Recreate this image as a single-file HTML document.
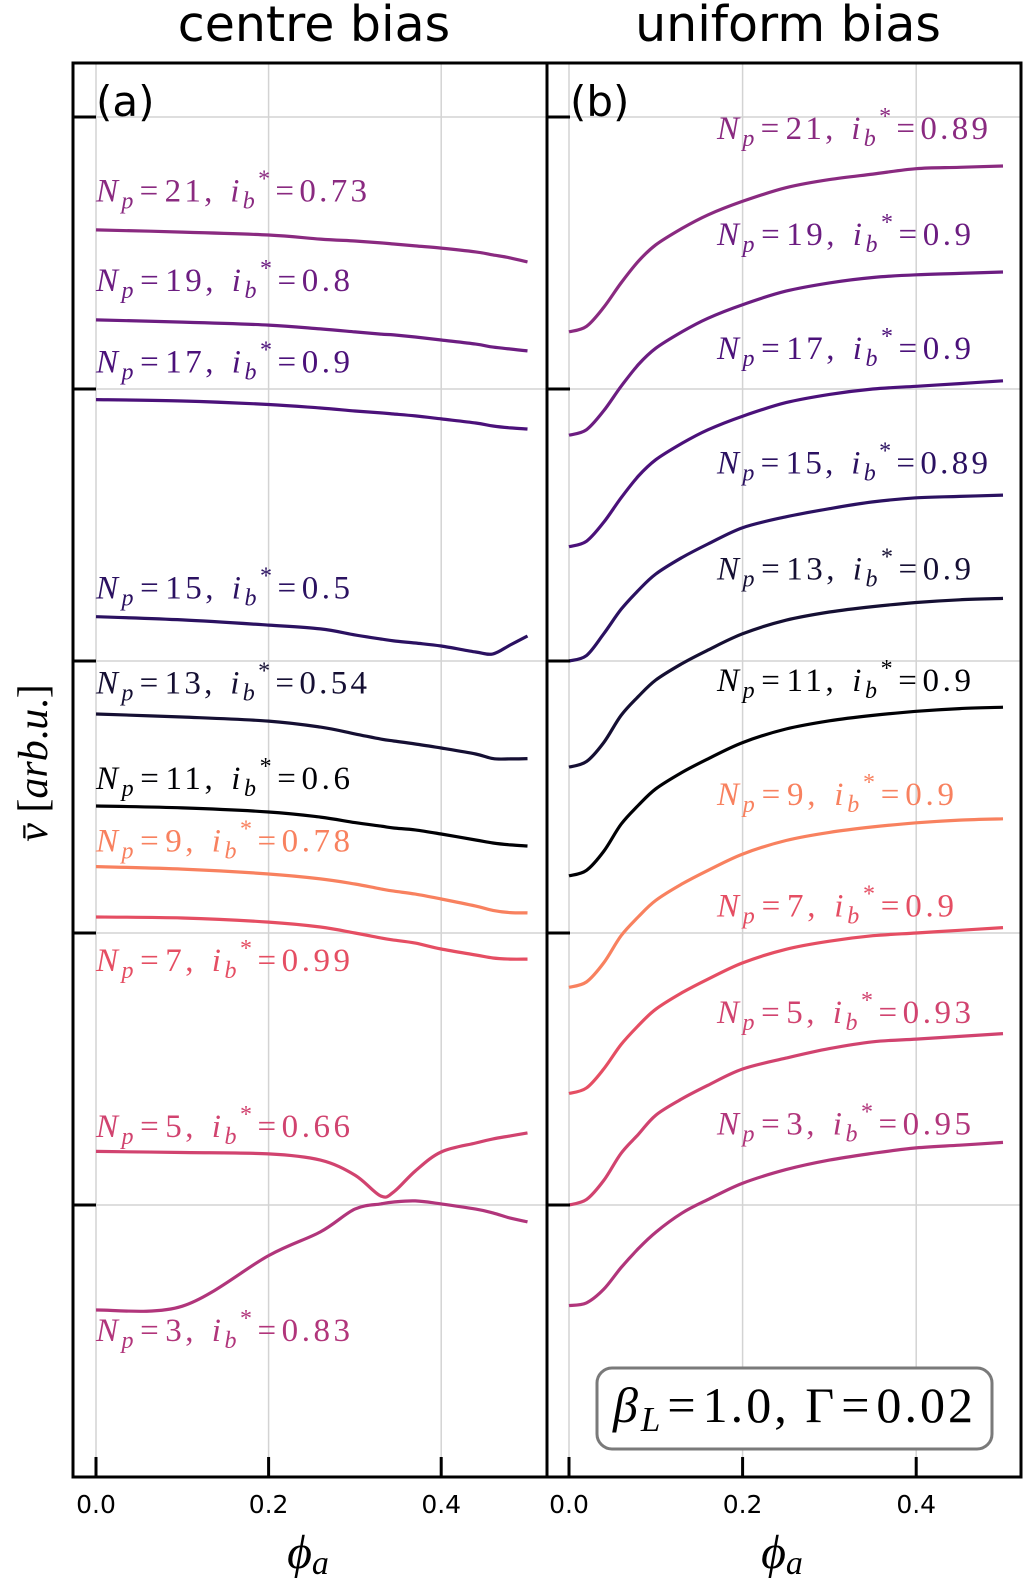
<!DOCTYPE html>
<html><head><meta charset="utf-8"><style>
html,body{margin:0;padding:0;background:#fff;}
svg{display:block;}
</style></head><body>
<svg id="fig" width="1025" height="1582" viewBox="0 0 1025 1582" xmlns="http://www.w3.org/2000/svg"></svg>
<script>
// ---- data ----
const xTicks = [0.0, 0.2, 0.4];
const xTickLabels = ["0.0", "0.2", "0.4"];
const yTicks = [1, 2, 3, 4, 5];

// left panel (centre bias)
const phiLeft = [0, 0.1, 0.2, 0.26, 0.3, 0.33, 0.345, 0.37, 0.4, 0.44, 0.46, 0.48, 0.5];
const leftN21 = [4.585,4.577,4.566,4.551,4.544,4.537,4.533,4.526,4.518,4.504,4.493,4.482,4.467];
const leftN19 = [4.254,4.246,4.235,4.221,4.210,4.202,4.199,4.191,4.180,4.165,4.154,4.147,4.140];
const leftN17 = [3.961,3.956,3.943,3.930,3.919,3.912,3.908,3.901,3.890,3.875,3.864,3.857,3.853];
const leftN15 = [3.163,3.151,3.132,3.118,3.096,3.081,3.074,3.066,3.055,3.033,3.026,3.059,3.092];
const leftN13 = [2.805,2.794,2.779,2.757,2.732,2.713,2.706,2.695,2.680,2.658,2.641,2.640,2.641];
const leftN11 = [2.467,2.460,2.445,2.426,2.406,2.393,2.386,2.379,2.364,2.342,2.331,2.324,2.320];
const leftN9  = [2.244,2.235,2.217,2.199,2.180,2.162,2.154,2.143,2.125,2.099,2.083,2.075,2.074];
const leftN7  = [2.059,2.055,2.040,2.022,2.000,1.982,1.974,1.963,1.941,1.919,1.908,1.904,1.904];
const leftN5  = [1.197,1.193,1.188,1.165,1.110,1.033,1.048,1.125,1.195,1.228,1.243,1.254,1.265];
const leftN3  = [0.614,0.628,0.814,0.901,0.985,1.004,1.011,1.015,1.004,0.985,0.971,0.952,0.938];

// right panel (uniform bias)
const phiRight = [0, 0.02, 0.04, 0.06, 0.08, 0.1, 0.13, 0.16, 0.2, 0.25, 0.3, 0.35, 0.4, 0.45, 0.5];
const rightN21 = [4.21,4.23,4.30,4.39,4.47,4.53,4.59,4.64,4.69,4.74,4.77,4.79,4.81,4.815,4.82];
const rightN19 = [3.83,3.85,3.92,4.01,4.09,4.15,4.21,4.26,4.31,4.36,4.39,4.41,4.42,4.425,4.43];
const rightN17 = [3.42,3.44,3.51,3.60,3.68,3.74,3.80,3.85,3.90,3.95,3.98,4.00,4.01,4.02,4.03];
const rightN15 = [3.00,3.02,3.10,3.19,3.26,3.32,3.38,3.43,3.49,3.53,3.56,3.585,3.60,3.605,3.61];
const rightN13 = [2.61,2.63,2.70,2.80,2.87,2.93,2.99,3.04,3.10,3.15,3.18,3.20,3.215,3.225,3.23];
const rightN11 = [2.21,2.23,2.30,2.40,2.47,2.53,2.59,2.64,2.70,2.75,2.78,2.80,2.815,2.825,2.83];
const rightN9  = [1.80,1.82,1.89,1.99,2.06,2.12,2.18,2.23,2.29,2.34,2.37,2.39,2.405,2.415,2.42];
const rightN7  = [1.41,1.43,1.50,1.59,1.66,1.72,1.78,1.83,1.89,1.94,1.97,1.99,2.00,2.01,2.02];
const rightN5  = [1.00,1.02,1.09,1.19,1.26,1.33,1.39,1.44,1.50,1.54,1.575,1.60,1.61,1.62,1.63];
const rightN3  = [0.63,0.64,0.69,0.77,0.84,0.90,0.97,1.02,1.08,1.13,1.165,1.19,1.21,1.22,1.23];

const leftNp = ["21","19","17","15","13","11","9","7","5","3"];
const leftIb = ["0.73","0.8","0.9","0.5","0.54","0.6","0.78","0.99","0.66","0.83"];
const rightIb = ["0.89","0.9","0.9","0.89","0.9","0.9","0.9","0.9","0.93","0.95"];
const leftLabelY = [4.69,4.36,4.06,3.23,2.88,2.53,2.30,1.86,1.25,0.50];
const rightLabelY = [4.92,4.53,4.11,3.69,3.30,2.89,2.47,2.06,1.67,1.26];

// ---- styles (not data) ----
const colors = ["#8a2a80","#6c1d81","#4b117a","#2b1161","#150f33","#000004","#f8815f","#e54e63","#d1436f","#b1357b"];
const leftSeries = [leftN21,leftN19,leftN17,leftN15,leftN13,leftN11,leftN9,leftN7,leftN5,leftN3];
const rightSeries = [rightN21,rightN19,rightN17,rightN15,rightN13,rightN11,rightN9,rightN7,rightN5,rightN3];

const svg = document.getElementById('fig');
const NS = 'http://www.w3.org/2000/svg';
function mk(tag, attrs, parent){ const e=document.createElementNS(NS,tag); for(const k in attrs) e.setAttribute(k,attrs[k]); (parent||svg).appendChild(e); return e; }

function smoothPath(pts){
  let d = 'M' + pts[0][0].toFixed(1) + ',' + pts[0][1].toFixed(1);
  for (let i=0;i<pts.length-1;i++){
    const p0 = pts[Math.max(0,i-1)], p1 = pts[i], p2 = pts[i+1], p3 = pts[Math.min(pts.length-1,i+2)];
    const t = 1/6;
    const c1x = p1[0] + (p2[0]-p0[0])*t, c1y = p1[1] + (p2[1]-p0[1])*t;
    const c2x = p2[0] - (p3[0]-p1[0])*t, c2y = p2[1] - (p3[1]-p1[1])*t;
    d += 'C' + c1x.toFixed(1)+','+c1y.toFixed(1)+' '+c2x.toFixed(1)+','+c2y.toFixed(1)+' '+p2[0].toFixed(1)+','+p2[1].toFixed(1);
  }
  return d;
}

const plotTop=63, plotBottom=1477;
function yS(v){ return 1477 - v*272; }
const panels = [
  {x0:73, x1:547, ox:96, k:863, series:leftSeries, phi:phiLeft, name:'centre-bias', title:'centre bias', tag:'(a)', lx:96, ly:leftLabelY, ib:leftIb},
  {x0:547, x1:1021, ox:569, k:868, series:rightSeries, phi:phiRight, name:'uniform-bias', title:'uniform bias', tag:'(b)', lx:717, ly:rightLabelY, ib:rightIb}
];

panels.forEach((P, pi) => {
  const g = mk('g', {});
  
  
  const xS = v => P.ox + v*P.k;
  xTicks.forEach(t => {
    const l = mk('line',{x1:xS(t),x2:xS(t),y1:plotTop,y2:plotBottom,stroke:'#d3d3d3','stroke-width':1.5},g);
    
    
  });
  yTicks.forEach(t => {
    const l = mk('line',{x1:P.x0,x2:P.x1,y1:yS(t),y2:yS(t),stroke:'#d3d3d3','stroke-width':1.5},g);
    
    
  });
  P.series.forEach((arr, si) => {
    const pts = arr.map((v,i) => [xS(P.phi[i]), yS(v)]);
    const p = mk('path',{d:smoothPath(pts),fill:'none',stroke:colors[si],'stroke-width':3.2,'stroke-linejoin':'round','stroke-linecap':'butt'},g);
    
    
    const nchar = leftNp[si].length + P.ib[si].length;
    const w = 254 + 17*(nchar-5);
    const t = mk('text',{x:P.lx,y:yS(P.ly[si]),fill:colors[si],'font-family':'"Liberation Serif", serif','font-size':33,textLength:w,lengthAdjust:'spacing'},g);
    
    
    t.innerHTML = '<tspan font-style="italic">N</tspan><tspan font-style="italic" font-size="24" dy="7">p</tspan><tspan dy="-7" dx="3">=</tspan><tspan dx="3">' + leftNp[si] + ', </tspan><tspan font-style="italic" dx="3">i</tspan><tspan font-style="italic" font-size="24" dy="7">b</tspan><tspan font-size="24" dy="-22" dx="0">*</tspan><tspan dy="15" dx="2">=</tspan><tspan dx="2">' + P.ib[si] + '</tspan>';
  });
  yTicks.forEach(t => {
    const l = mk('line',{x1:P.x0,x2:P.x0+23,y1:yS(t),y2:yS(t),stroke:'#000','stroke-width':3},g);
    
    
  });
  xTicks.forEach((t,i) => {
    const l = mk('line',{x1:xS(t),x2:xS(t),y1:plotBottom,y2:plotBottom-20,stroke:'#000','stroke-width':3},g);
    
    
    const tx = mk('text',{x:xS(t),y:1513,'text-anchor':'middle','font-family':'"DejaVu Sans", sans-serif','font-size':25,fill:'#000'},g);
    
    
    tx.textContent = xTickLabels[i];
  });
  const fr = mk('rect',{x:P.x0,y:plotTop,width:P.x1-P.x0,height:plotBottom-plotTop,fill:'none',stroke:'#000','stroke-width':3},g);
  
  
  const ti = mk('text',{x:(P.x0+P.x1)/2+4,y:41,'text-anchor':'middle','font-family':'"DejaVu Sans", sans-serif','font-size':49,fill:'#000'},g);
  
  
  ti.textContent = P.title;
  const tg = mk('text',{x:P.x0+23,y:116,'font-family':'"DejaVu Sans", sans-serif','font-size':42,fill:'#000'},g);
  
  
  tg.textContent = P.tag;
  const xl = mk('text',{x:(P.x0+P.x1)/2-2,y:1568,'text-anchor':'middle','font-family':'"Liberation Serif", "DejaVu Serif", serif','font-size':48,'font-style':'italic',fill:'#000'},g);
  
  
  xl.innerHTML = 'ϕ<tspan font-size="34" dy="6">a</tspan>';
});

const bx = mk('rect',{x:597,y:1368,width:395,height:81,rx:15,ry:15,fill:'#fff',stroke:'#7a7a7a','stroke-width':3});


const bt = mk('text',{x:613,y:1422,'font-family':'"Liberation Serif", serif','font-size':50,fill:'#000',textLength:360,lengthAdjust:'spacing'});


bt.innerHTML = '<tspan font-style="italic">β</tspan><tspan font-style="italic" font-size="35" dy="9">L</tspan><tspan dy="-9" dx="4">=</tspan><tspan dx="4">1.0, Γ</tspan><tspan dx="4">=</tspan><tspan dx="4">0.02</tspan>';

const yl = mk('text',{x:0,y:0,transform:'translate(47,763) rotate(-90)','text-anchor':'middle','font-family':'"Liberation Serif", serif','font-size':42,fill:'#000'});


yl.innerHTML = '<tspan font-style="italic">v̄</tspan> [<tspan font-style="italic">arb</tspan>.<tspan font-style="italic">u</tspan>.]';
</script>
</body></html>
